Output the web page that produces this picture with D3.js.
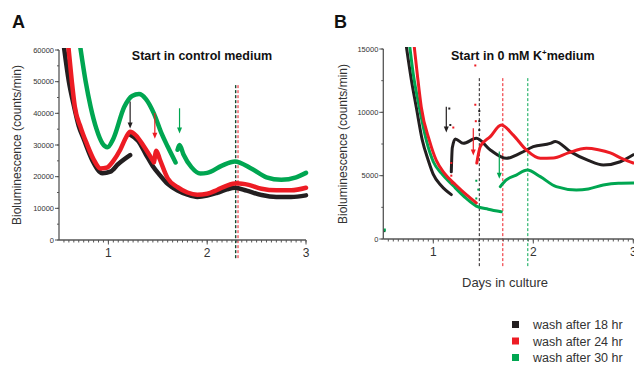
<!DOCTYPE html>
<html>
<head>
<meta charset="utf-8">
<script src="https://cdnjs.cloudflare.com/ajax/libs/d3/7.8.5/d3.min.js"></script>
<style>
  body { margin: 0; background: #fff; }
  svg { font-family: Arial, "Liberation Sans", sans-serif; }
  .tick-y { font-size: 7.5px; fill: #333; }
  .tick-x { font-size: 12px; fill: #333; }
</style>
</head>
<body>
<div id="chart"></div>
<script>
// series: [day, counts/min]
const aBlackPre = [[0.55,61000],[0.6,50000],[0.653,42100],[0.7,36000],[0.754,31600],[0.84,25000],[0.94,21100],[1.02,21600],[1.1,24000],[1.22,26800]];
const aBlackPost = [[1.222,33200],[1.3,31300],[1.38,27000],[1.45,23300],[1.52,20500],[1.6,17700],[1.7,15600],[1.8,14300],[1.9,13600],[2.0,14000],[2.1,14900],[2.2,16000],[2.28,16500],[2.4,15600],[2.55,14200],[2.7,13600],[2.85,13600],[3.0,14100]];
const aRedPre = [[0.595,61000],[0.63,50000],[0.66,42100],[0.72,35500],[0.78,30500],[0.85,25500],[0.92,22600],[0.98,22800],[1.05,25000],[1.12,28500],[1.18,32500],[1.22,34200],[1.28,33000],[1.36,29500],[1.46,24500]];
const aRedPost = [[1.465,25000],[1.485,28200],[1.52,25500],[1.6,19500],[1.7,16700],[1.8,15000],[1.9,14300],[2.0,14600],[2.1,15800],[2.2,17200],[2.3,17900],[2.42,17400],[2.55,16200],[2.7,15700],[2.85,15700],[3.0,16500]];
const aGreenPre = [[0.715,61000],[0.77,50000],[0.82,42100],[0.88,35000],[0.94,30500],[0.99,29300],[1.05,32000],[1.16,42000],[1.24,45500],[1.31,46100],[1.38,44500],[1.46,40000],[1.54,33500],[1.6,29500],[1.68,24500]];
const aGreenPost = [[1.70,28500],[1.72,30000],[1.76,27000],[1.84,23000],[1.93,21000],[2.0,21200],[2.15,23500],[2.28,24800],[2.45,22500],[2.6,19800],[2.75,19000],[2.9,19800],[3.0,21200]];

const bBlackPre = [[0.725,15500],[0.78,12600],[0.83,10400],[0.89,7800],[0.95,6200],[1.0,5100],[1.08,4200],[1.18,3500]];
const bBlackPost = [[1.18,5300],[1.19,7200],[1.22,7900],[1.3,7550],[1.43,7950],[1.57,7030],[1.73,6370],[1.87,6770],[2.0,7290],[2.17,7550],[2.22,7700],[2.37,6900],[2.55,6200],[2.7,5840],[2.87,6100],[3.0,6650]];
const bRedPre = [[0.805,15500],[0.84,13000],[0.88,10400],[0.96,7800],[1.03,6200],[1.11,5200],[1.22,4300],[1.33,3500],[1.43,2850]];
const bRedPost = [[1.435,6000],[1.47,7290],[1.57,8080],[1.68,9000],[1.8,8200],[1.93,7030],[2.07,6370],[2.2,6390],[2.35,6800],[2.53,7160],[2.65,7050],[2.77,6800],[2.9,6300],[3.0,6000]];
const bGreenPre = [[0.76,15500],[0.8,13000],[0.86,10400],[0.93,7800],[1.0,6100],[1.08,5200],[1.2,4200],[1.33,3200],[1.43,2600],[1.55,2350],[1.68,2150]];
const bGreenPost = [[1.67,4130],[1.73,4660],[1.83,5050],[1.94,5450],[2.07,4920],[2.23,4130],[2.43,3870],[2.55,3950],[2.7,4260],[2.85,4400],[3.0,4420]];

// stray points [day, value, series]
const bDots = [[0.5,700,'k'],[0.505,750,'g'],[1.42,13700,'r'],[1.42,10600,'r'],[1.425,9300,'r'],[1.46,10100,'k'],[1.46,9300,'k'],[1.46,8600,'k'],
  [1.16,10300,'k'],[1.17,9000,'k'],[1.18,6000,'r'],[1.18,5000,'r'],[1.185,4400,'r'],[1.43,4600,'g'],[1.43,3200,'g'],[1.45,3900,'g'],[1.2,8800,'r']];

// wash arrows [day, from, to, series]
const aArrows = [[1.22,43700,35200,'k'],[1.47,40100,32000,'r'],[1.72,41600,33600,'g']];
const bArrows = [[1.13,10450,8400,'k'],[1.4,8750,6600,'r'],[1.66,6900,4750,'g']];
// dashed markers [day, top value, series]
const aMarks = [[2.286,48900,'g'],[2.29,48900,'k'],[2.312,48900,'r']];
const bMarks = [[1.46,12700,'k'],[1.695,12700,'r'],[1.945,12700,'g']];

const legendLabels = ['wash after 18 hr','wash after 24 hr','wash after 30 hr'];
const colors = { k: '#231f20', r: '#ed1c24', g: '#00a651' };

const svg = d3.select('#chart').append('svg').attr('width', 634).attr('height', 366);

function panel(opts) {
  const x = d3.scaleLinear().domain([0.5, 3]).range(opts.xr);
  const y = d3.scaleLinear().domain([0, opts.ymax]).range([opts.yBottom, opts.yTop]);
  const g = svg.append('g');
  const clipId = 'clip' + opts.letter;
  svg.append('clipPath').attr('id', clipId).append('rect')
    .attr('x', opts.xr[0]).attr('y', opts.yTop - 2)
    .attr('width', opts.xr[1] - opts.xr[0] + 4).attr('height', opts.yBottom - opts.yTop + 2);

  // dashed markers
  g.selectAll('.mark').data(opts.marks).enter().append('line')
    .attr('x1', d => x(d[0])).attr('x2', d => x(d[0]))
    .attr('y1', d => y(d[1])).attr('y2', opts.yBottom + opts.markDrop)
    .attr('stroke', d => colors[d[2]]).attr('stroke-width', 1)
    .attr('stroke-dasharray', '3,2');

  const line = d3.line().x(d => x(d[0])).y(d => y(d[1])).curve(d3.curveMonotoneX);
  const curves = g.append('g').attr('clip-path', `url(#${clipId})`);
  opts.series.forEach(s => {
    curves.append('path').datum(s.data).attr('d', line)
      .attr('fill', 'none').attr('stroke', colors[s.c])
      .attr('stroke-width', opts.lw).attr('stroke-linejoin', 'round').attr('stroke-linecap', 'round');
  });
  if (opts.dots) {
    curves.selectAll('.dot').data(opts.dots).enter().append('rect')
      .attr('x', d => x(d[0]) - 1).attr('y', d => y(d[1]) - 1)
      .attr('width', d => d[1] < 1000 ? 3 : 2).attr('height', d => d[1] < 1000 ? 3 : 2)
      .attr('fill', d => colors[d[2]]);
  }

  // arrows
  const ar = g.selectAll('.arrow').data(opts.arrows).enter().append('g');
  ar.append('line').attr('x1', d => x(d[0])).attr('x2', d => x(d[0]))
    .attr('y1', d => y(d[1])).attr('y2', d => y(d[2]) - 4)
    .attr('stroke', d => colors[d[3]]).attr('stroke-width', 1.2);
  ar.append('path')
    .attr('d', d => `M${x(d[0]) - 2.5},${y(d[2]) - 6} L${x(d[0]) + 2.5},${y(d[2]) - 6} L${x(d[0])},${y(d[2])} Z`)
    .attr('fill', d => colors[d[3]]);

  // y axis
  const yAxis = g.append('g').attr('transform', `translate(${opts.xr[0]},0)`);
  yAxis.append('line').attr('x1', 0).attr('x2', 0).attr('y1', opts.yTop).attr('y2', opts.yBottom)
    .attr('stroke', '#555').attr('stroke-width', 1.3);
  const yMinor = d3.range(0, opts.ymax + 1, opts.ymax / 6 / (opts.ymax > 20000 ? 1 : 1));
  yAxis.selectAll('.ymin').data(d3.range(0, opts.ymax + 1, opts.yMinorStep)).enter().append('line')
    .attr('x1', -2).attr('x2', 0).attr('y1', d => y(d)).attr('y2', d => y(d))
    .attr('stroke', '#555');
  yAxis.selectAll('.ymaj').data(opts.yTicks).enter().append('line')
    .attr('x1', -4).attr('x2', 0).attr('y1', d => y(d)).attr('y2', d => y(d))
    .attr('stroke', '#555');
  yAxis.selectAll('.ylab').data(opts.yTicks).enter().append('text')
    .attr('class', 'tick-y').attr('x', -5).attr('y', d => y(d) + 2.5)
    .attr('text-anchor', 'end').text(d => d);

  // x axis
  const xAxis = g.append('g').attr('transform', `translate(0,${opts.yBottom})`);
  xAxis.append('line').attr('x1', opts.xr[0]).attr('x2', opts.xr[1]).attr('y1', 0).attr('y2', 0)
    .attr('stroke', '#555').attr('stroke-width', 1.3);
  xAxis.selectAll('.xmin').data(d3.range(0.55, 3.001, 0.05)).enter().append('line')
    .attr('x1', d => x(d)).attr('x2', d => x(d)).attr('y1', 0).attr('y2', 2.5)
    .attr('stroke', '#555');
  xAxis.selectAll('.xmaj').data([1, 2, 3]).enter().append('line')
    .attr('x1', d => x(d)).attr('x2', d => x(d)).attr('y1', 0).attr('y2', 4.5)
    .attr('stroke', '#555');
  xAxis.selectAll('.xlab').data([1, 2, 3]).enter().append('text')
    .attr('class', 'tick-x').attr('x', d => x(d)).attr('y', 17)
    .attr('text-anchor', 'middle').text(d => d);

  // axis title
  svg.append('text').attr('transform', `translate(${opts.yTitleX},${(opts.yTop + opts.yBottom) / 2}) rotate(-90)`)
    .attr('text-anchor', 'middle').attr('font-size', 12).attr('fill', '#333')
    .text('Bioluminescence (counts/min)');

  // panel letter
  svg.append('text').attr('x', opts.letterX).attr('y', 28)
    .attr('font-size', 18).attr('font-weight', 'bold').attr('fill', '#111').text(opts.letter);
  return { x, y };
}

panel({
  letter: 'A', letterX: 12, xr: [59, 306], yTop: 50, yBottom: 240, ymax: 60000,
  yTicks: d3.range(0, 60001, 10000), yMinorStep: 5000, yTitleX: 21, lw: 4.5, markDrop: 20,
  marks: aMarks, arrows: aArrows,
  series: [
    { data: aGreenPre, c: 'g' }, { data: aGreenPost, c: 'g' },
    { data: aBlackPre, c: 'k' }, { data: aBlackPost, c: 'k' },
    { data: aRedPre, c: 'r' }, { data: aRedPost, c: 'r' }
  ]
});

panel({
  letter: 'B', letterX: 334, xr: [383.3, 633.3], yTop: 49, yBottom: 239, ymax: 15000,
  yTicks: d3.range(0, 15001, 5000), yMinorStep: 2500, yTitleX: 347, lw: 3, markDrop: 28,
  marks: bMarks, arrows: bArrows, dots: bDots,
  series: [
    { data: bBlackPre, c: 'k' }, { data: bGreenPre, c: 'g' }, { data: bRedPre, c: 'r' },
    { data: bBlackPost, c: 'k' }, { data: bGreenPost, c: 'g' }, { data: bRedPost, c: 'r' }
  ]
});

// titles
svg.append('text').attr('x', 202).attr('y', 60).attr('text-anchor', 'middle')
  .attr('font-size', 12.5).attr('font-weight', 'bold').attr('fill', '#111').text('Start in control medium');
const tB = svg.append('text').attr('x', 451).attr('y', 60)
  .attr('font-size', 12.5).attr('font-weight', 'bold').attr('fill', '#111');
tB.append('tspan').text('Start in 0 mM K');
tB.append('tspan').attr('font-size', 8).attr('dy', -5).text('+');
tB.append('tspan').attr('dy', 5).text('medium');

svg.append('text').attr('x', 505).attr('y', 287).attr('text-anchor', 'middle')
  .attr('font-size', 13).attr('fill', '#333').text('Days in culture');

// legend
const leg = svg.append('g').selectAll('g').data(legendLabels).enter().append('g')
  .attr('transform', (d, i) => `translate(512,${321 + i * 16.5})`);
leg.append('rect').attr('width', 7).attr('height', 7).attr('fill', (d, i) => colors['krg'[i]]);
leg.append('text').attr('x', 21).attr('y', 8).attr('font-size', 12.5).attr('fill', '#333').text(d => d);
</script>
</body>
</html>
